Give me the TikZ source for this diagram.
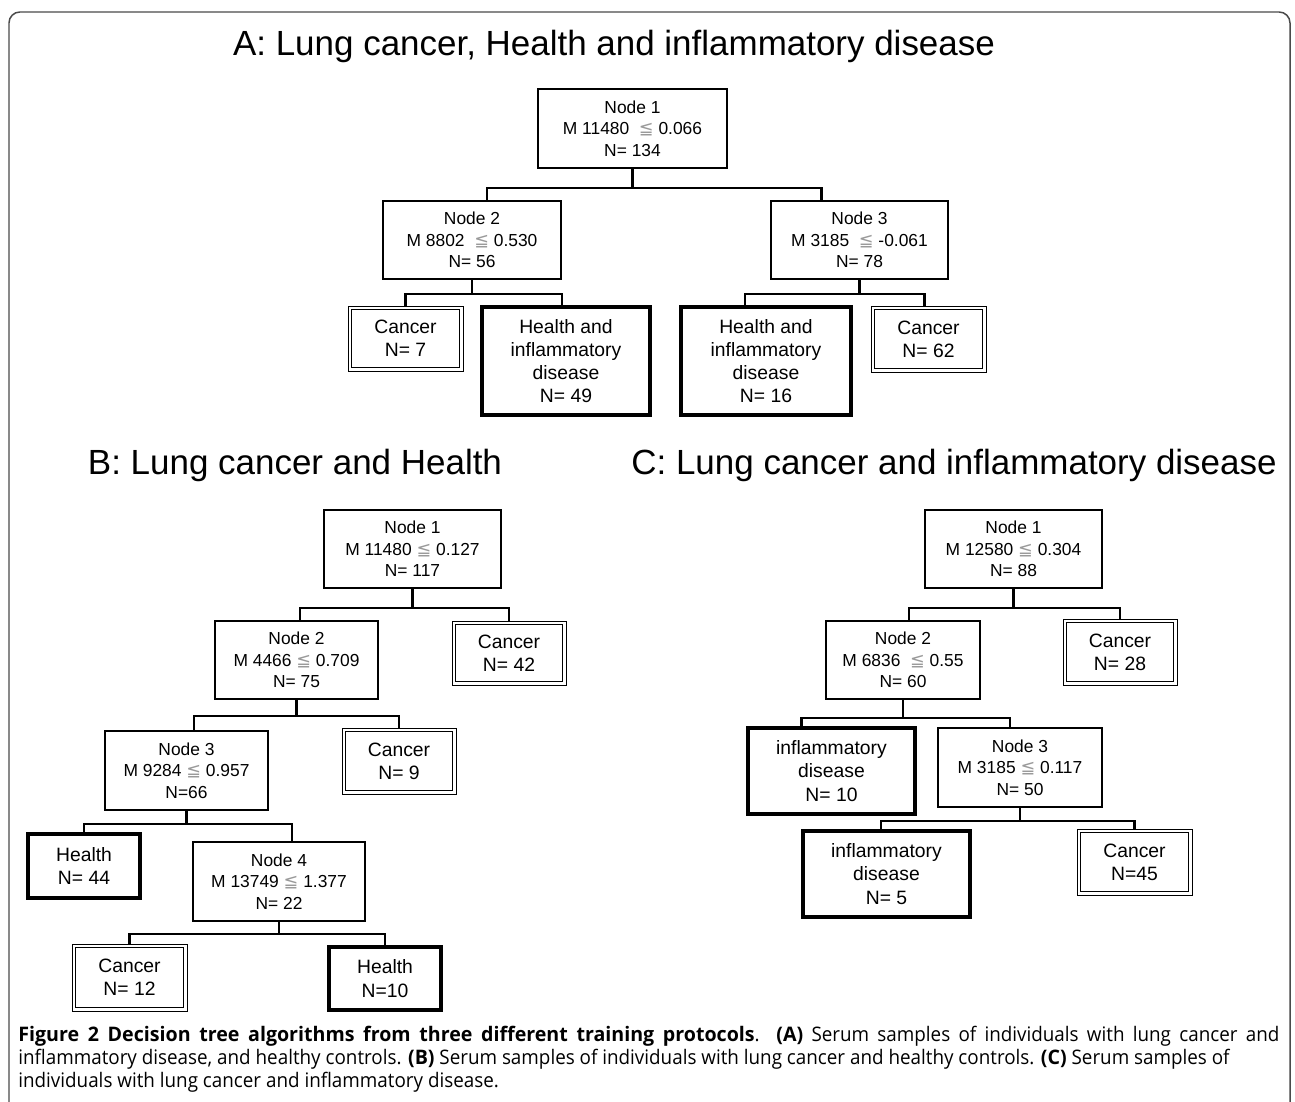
\documentclass[tikz,border=0pt]{standalone}
\usepackage{fontspec}
\setmainfont{Liberation Sans}
\newfontfamily\symfont{DejaVu Sans}
\newfontfamily\capfont[FakeStretch=0.94, BoldFeatures={FakeStretch=0.98}]{Open Sans}
\usetikzlibrary{calc}
\definecolor{frameGray}{HTML}{4A4A4A}
\definecolor{leqGray}{HTML}{9A9A9A}
\newcommand{\leqs}{{\symfont\color{leqGray}\fontsize{10}{10}\selectfont ≦}}

\begin{document}
\begin{tikzpicture}[
  x=0.02cm, y=-0.02cm,
  every node/.style={inner sep=0pt, align=center},
  title/.style={anchor=base, font=\fontsize{19.9}{24}\selectfont},
  split/.style={draw, line width=0.9pt, font=\fontsize{9.9}{12.2}\selectfont},
  cancer/.style={draw, line width=1.1pt, outer sep=2pt,
                 font=\fontsize{11}{13.2}\selectfont},
  other/.style={draw, line width=1.8pt, font=\fontsize{11}{13.2}\selectfont},
  link/.style={line width=1.3pt},
  sz/.style 2 args={minimum width=#1*0.02cm, minimum height=#2*0.02cm},
]
\useasboundingbox (0,0) rectangle (1295,1102);
\draw[frameGray, line width=0.85pt, rounded corners=6.2pt]
  (9,1102) -- (9,12) -- (1290,12) -- (1290,1102);

% A
\node[title] (titA) at (614,55) {A: Lung cancer, Health and inflammatory disease};
\node[split, sz={189}{79}] (a1) at (632.5,128.5) {Node 1\\M 11480~ \leqs{} 0.066\\N= 134};
\node[split, sz={178}{78}] (a2) at (472,240) {Node 2\\M 8802~ \leqs{} 0.530\\N= 56};
\node[split, sz={177}{78}] (a3) at (859.5,240) {Node 3\\M 3185~ \leqs{} -0.061\\N= 78};
\node[cancer, sz={108}{58}] (ac7) at (405.5,338.5) {Cancer\\N= 7};
\node[other, sz={168}{108}] (ahi49) at (566,361) {Health and\\inflammatory\\disease\\N= 49};
\node[other, sz={170}{108}] (ahi16) at (766,361) {Health and\\inflammatory\\disease\\N= 16};
\node[cancer, sz={108}{59}] (ac62) at (928.5,339) {Cancer\\N= 62};

\draw[link] (a1.south) -- ++(0,19) -| ($(a2.north)+(15,0)$);
\draw[link] (a1.south) -- ++(0,19) -| ($(a3.north)+(-38,0)$);
\draw[link] (a2.south) -- ++(0,14) -| (ac7.north);
\draw[link] (a2.south) -- ++(0,14) -| ($(ahi49.north)+(-4,0)$);
\draw[link] (a3.south) -- ++(0,14) -| ($(ahi16.north)+(-21,0)$);
\draw[link] (a3.south) -- ++(0,14) -| ($(ac62.north)+(-4,0)$);

% B
\node[title] (titB) at (295,474) {B: Lung cancer and Health};
\node[split, sz={177}{78}] (b1) at (412.5,549) {Node 1\\M 11480 \leqs{} 0.127\\N= 117};
\node[split, sz={163}{78}] (b2) at (296.5,660) {Node 2\\M 4466 \leqs{} 0.709\\N= 75};
\node[cancer, sz={107}{57}] (bc42) at (509,653) {Cancer\\N= 42};
\node[split, sz={163}{79}] (b3) at (186.5,770.5) {Node 3\\M 9284 \leqs{} 0.957\\N=66};
\node[cancer, sz={107}{59}] (bc9) at (399,761) {Cancer\\N= 9};
\node[other, sz={112}{64}] (bh44) at (84,866) {Health\\N= 44};
\node[split, sz={172}{79}] (b4) at (279,881.5) {Node 4\\M 13749 \leqs{} 1.377\\N= 22};
\node[cancer, sz={108}{60}] (bc12) at (129.5,977.5) {Cancer\\N= 12};
\node[other, sz={112}{63}] (bh10) at (385,978.5) {Health\\N=10};

\draw[link] (b1.south) -- ++(0,19) -| ($(b2.north)+(3.5,0)$);
\draw[link] (b1.south) -- ++(0,19) -| (bc42.north);
\draw[link] (b2.south) -- ++(0,16) -| ($(b3.north)+(7.5,0)$);
\draw[link] (b2.south) -- ++(0,16) -| (bc9.north);
\draw[link] (b3.south) -- ++(0,13) -| (bh44.north);
\draw[link] (b3.south) -- ++(0,13) -| ($(b4.north)+(13,0)$);
\draw[link] (b4.south) -- ++(0,12) -| (bc12.north);
\draw[link] (b4.south) -- ++(0,12) -| (bh10.north);

% C
\node[title] (titC) at (954,474) {C: Lung cancer and inflammatory disease};
\node[split, sz={177}{78}] (c1) at (1013.5,549) {Node 1\\M 12580 \leqs{} 0.304\\N= 88};
\node[split, sz={154}{78}] (c2) at (903,660) {Node 2\\M 6836~ \leqs{} 0.55\\N= 60};
\node[cancer, sz={107}{59}] (cc28) at (1120,652) {Cancer\\N= 28};
\node[other, sz={167}{86}] (ci10) at (831.5,771) {inflammatory\\disease\\N= 10};
\node[split, sz={164}{79}] (c3) at (1020,767.5) {Node 3\\M 3185 \leqs{} 0.117\\N= 50};
\node[other, sz={167}{86}] (ci5) at (886.5,874) {inflammatory\\disease\\N= 5};
\node[cancer, sz={108}{59}] (cc45) at (1134.5,862) {Cancer\\N=45};

\draw[link] (c1.south) -- ++(0,19) -| ($(c2.north)+(6,0)$);
\draw[link] (c1.south) -- ++(0,19) -| (cc28.north);
\draw[link] (c2.south) -- ++(0,18) -| ($(ci10.north)+(-30,0)$);
\draw[link] (c2.south) -- ++(0,18) -| ($(c3.north)+(-10,0)$);
\draw[link] (c3.south) -- ++(0,13) -| ($(ci5.north)+(-5.5,0)$);
\draw[link] (c3.south) -- ++(0,13) -| (cc45.north);

% outer line of the Cancer leaves
\foreach \n in {ac7,ac62,bc42,bc9,bc12,cc28,cc45}
  \draw[line width=0.5pt] (\n.north west) rectangle (\n.south east);

% caption
\node[anchor=north west, text width=1261*0.02cm, align=justify,
      font=\capfont\fontsize{11.4}{13}\selectfont] (cap) at (18,1026)
  {\textbf{Figure 2 Decision tree algorithms from three different training protocols}. \textbf{(A)} Serum samples of individuals with lung cancer and\linebreak
   inflammatory disease, and healthy controls. \textbf{(B)} Serum samples of individuals with lung cancer and healthy controls. \textbf{(C)} Serum samples of\\
   individuals with lung cancer and inflammatory disease.};
\end{tikzpicture}
\end{document}
